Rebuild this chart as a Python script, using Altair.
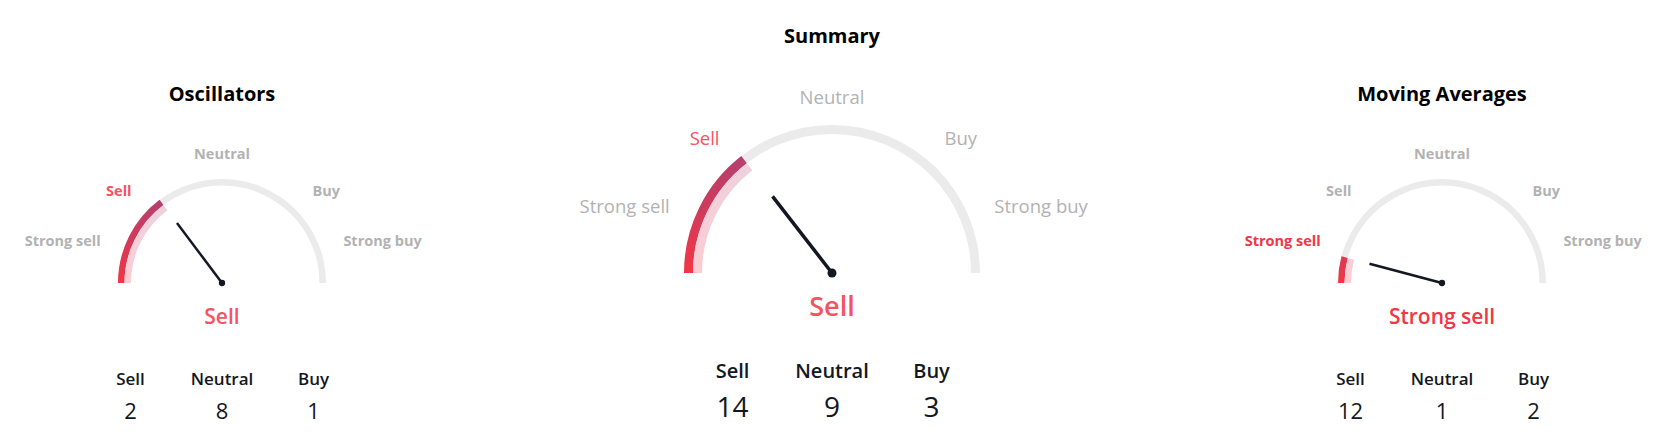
import math
import altair as alt
import pandas as pd

# ---------------- data ----------------
GAUGES = ["Oscillators", "Summary", "Moving Averages"]
NEEDLE = [-0.41, -0.42, -0.835]          # needle position, -1 = strong sell, 1 = strong buy
VERDICT = ["Sell", "Sell", "Strong sell"]
SECTIONS = ["Strong sell", "Sell", "Neutral", "Buy", "Strong buy"]
COUNT_HEADERS = ["Sell", "Neutral", "Buy"]
SELL_COUNT = [2, 14, 12]
NEUTRAL_COUNT = [8, 9, 1]
BUY_COUNT = [1, 3, 2]

# ---------------- layout / style ----------------
FONT = "Open Sans"
SMALL = dict(R=104, band=6.5, L=75, w=2.5, dot=40, title_size=20, label_r=128,
             label_angles=[18.5, 45, 90, 135, 161.5], label_size=14.5, label_weight="bold",
             verdict_dy=35, verdict_size=21, count_dx=91.5, header_dy=97, number_dy=129,
             header_size=17, number_size=22)
BIG = dict(R=148, band=9, L=97, w=3.5, dot=80, title_size=20, label_r=175,
           label_angles=[22, 50, 90, 130, 158], label_size=18.5, label_weight=500,
           verdict_dy=35, verdict_size=27, count_dx=99.5, header_dy=99, number_dy=136,
           header_size=20, number_size=28)
LAYOUT = [
    dict(cx=222, cy=283, title_y=95, **SMALL),
    dict(cx=832, cy=273, title_y=37, **BIG),
    dict(cx=1442, cy=283, title_y=95, **SMALL),
]
GREY_RING = "#ebebeb"
GREY_TEXT = "#b2b2b2"
INK = "#131722"
RED = {"Strong sell": "#f23645", "Sell": "#f7525f"}
GRAD_RED = ("#f23645", "#b53f6e")
GRAD_PINK = ("#fbccd3", "#eed1dd")
REF_ANGLE = 52.5

W, H = 1660, 424
X0, Y0 = 8, 8


def X(f):
    return alt.X(f"{f}:Q", scale=alt.Scale(domain=[X0, X0 + W], nice=False, zero=False), axis=None)


def Y(f):
    return alt.Y(f"{f}:Q", scale=alt.Scale(domain=[Y0, Y0 + H], nice=False, zero=False, reverse=True), axis=None)


def mix(c1, c2, t):
    a = [int(c1[i:i + 2], 16) for i in (1, 3, 5)]
    b = [int(c2[i:i + 2], 16) for i in (1, 3, 5)]
    return "#" + "".join(f"{round(x + (y - x) * t):02x}" for x, y in zip(a, b))


THETA_SCALE = alt.Scale(domain=[-1, 1], range=[-math.pi / 2, math.pi / 2])


def arc_layer(df, color):
    return alt.Chart(df).mark_arc(color=color).encode(
        x=X("cx"), y=Y("cy"),
        theta=alt.Theta("t0:Q", scale=THETA_SCALE, stack=False),
        theta2=alt.Theta2("t1"),
        radius=alt.Radius("r0:Q", scale=None),
        radius2=alt.Radius2("r1"),
    )


def text_layer(df, align="center", weight="normal"):
    return alt.Chart(df).mark_text(align=align, baseline="middle", font=FONT, fontWeight=weight).encode(
        x=X("x"), y=Y("y"), text="text:N",
        size=alt.Size("size:Q", scale=None),
        color=alt.Color("color:N", scale=None),
    )


layers = []

# background rings
ring = pd.DataFrame([dict(cx=g["cx"], cy=g["cy"], t0=-1, t1=1, r0=g["R"], r1=g["R"] - g["band"]) for g in LAYOUT])
layers.append(arc_layer(ring, GREY_RING))

# value bands
for g, v in zip(LAYOUT, NEEDLE):
    phi = (v + 1) / 2 * 180
    t = min(1.0, math.sin(math.radians(phi)) / math.sin(math.radians(REF_ANGLE)))
    red_end = mix(GRAD_RED[0], GRAD_RED[1], t)
    pink_end = mix(GRAD_PINK[0], GRAD_PINK[1], t)
    grad_red = alt.Gradient(gradient="linear", x1=0, y1=1, x2=0, y2=0,
                            stops=[alt.GradientStop(color=GRAD_RED[0], offset=0),
                                   alt.GradientStop(color=red_end, offset=1)])
    grad_pink = alt.Gradient(gradient="linear", x1=0, y1=1, x2=0, y2=0,
                             stops=[alt.GradientStop(color=GRAD_PINK[0], offset=0),
                                    alt.GradientStop(color=pink_end, offset=1)])
    red = pd.DataFrame([dict(cx=g["cx"], cy=g["cy"], t0=-1, t1=v, r0=g["R"], r1=g["R"] - g["band"])])
    pink = pd.DataFrame([dict(cx=g["cx"], cy=g["cy"], t0=-1, t1=v, r0=g["R"] - g["band"], r1=g["R"] - 2 * g["band"])])
    layers.append(arc_layer(red, grad_red))
    layers.append(arc_layer(pink, grad_pink))

# needles
needle = pd.DataFrame([dict(cx=g["cx"], cy=g["cy"], v=v, L=g["L"], w=g["w"], dot=g["dot"]) for g, v in zip(LAYOUT, NEEDLE)])
layers.append(
    alt.Chart(needle).transform_calculate(
        phi="(datum.v + 1) / 2 * PI",
        tx="datum.cx - datum.L * cos(datum.phi)",
        ty="datum.cy - datum.L * sin(datum.phi)",
    ).mark_rule(color=INK, strokeCap="butt").encode(
        x=X("cx"), y=Y("cy"), x2="tx:Q", y2="ty:Q",
        strokeWidth=alt.StrokeWidth("w:Q", scale=None),
    )
)
layers.append(
    alt.Chart(needle).mark_circle(color=INK, opacity=1).encode(
        x=X("cx"), y=Y("cy"), size=alt.Size("dot:Q", scale=None)
    )
)

# titles
titles = pd.DataFrame([dict(x=g["cx"], y=g["title_y"], text=name, size=g["title_size"], color="#000000")
                       for g, name in zip(LAYOUT, GAUGES)])
layers.append(text_layer(titles, "center", "bold"))

# section labels
rows = []
for g, verdict in zip(LAYOUT, VERDICT):
    for lab, ang in zip(SECTIONS, g["label_angles"]):
        a = math.radians(ang)
        align = "right" if ang < 90 else ("left" if ang > 90 else "center")
        rows.append(dict(x=g["cx"] - g["label_r"] * math.cos(a), y=g["cy"] - g["label_r"] * math.sin(a),
                         text=lab, size=g["label_size"], weight=str(g["label_weight"]), align=align,
                         color=RED[lab] if lab == verdict else GREY_TEXT))
labels = pd.DataFrame(rows)
for (align, weight), sub in labels.groupby(["align", "weight"]):
    w = int(weight) if weight.isdigit() else weight
    layers.append(text_layer(sub.drop(columns=["align", "weight"]), align, w))

# verdicts
verd = pd.DataFrame([dict(x=g["cx"], y=g["cy"] + g["verdict_dy"], text=vt, size=g["verdict_size"], color=RED[vt])
                     for g, vt in zip(LAYOUT, VERDICT)])
layers.append(text_layer(verd, "center", 600))

# counts
hdr, num = [], []
for g, s, n, b in zip(LAYOUT, SELL_COUNT, NEUTRAL_COUNT, BUY_COUNT):
    for k, (h, c) in enumerate(zip(COUNT_HEADERS, [s, n, b])):
        x = g["cx"] + (k - 1) * g["count_dx"]
        hdr.append(dict(x=x, y=g["cy"] + g["header_dy"], text=h, size=g["header_size"], color=INK))
        num.append(dict(x=x, y=g["cy"] + g["number_dy"], text=str(c), size=g["number_size"], color=INK))
layers.append(text_layer(pd.DataFrame(hdr), "center", 600))
layers.append(text_layer(pd.DataFrame(num), "center", 500))

chart = alt.layer(*layers).properties(
    width=W, height=H, padding=0, background="white",
    autosize=alt.AutoSizeParams(type="none"),
).configure_view(stroke=None)

chart.save("out.html", embed_options={"renderer": "svg", "actions": False})
